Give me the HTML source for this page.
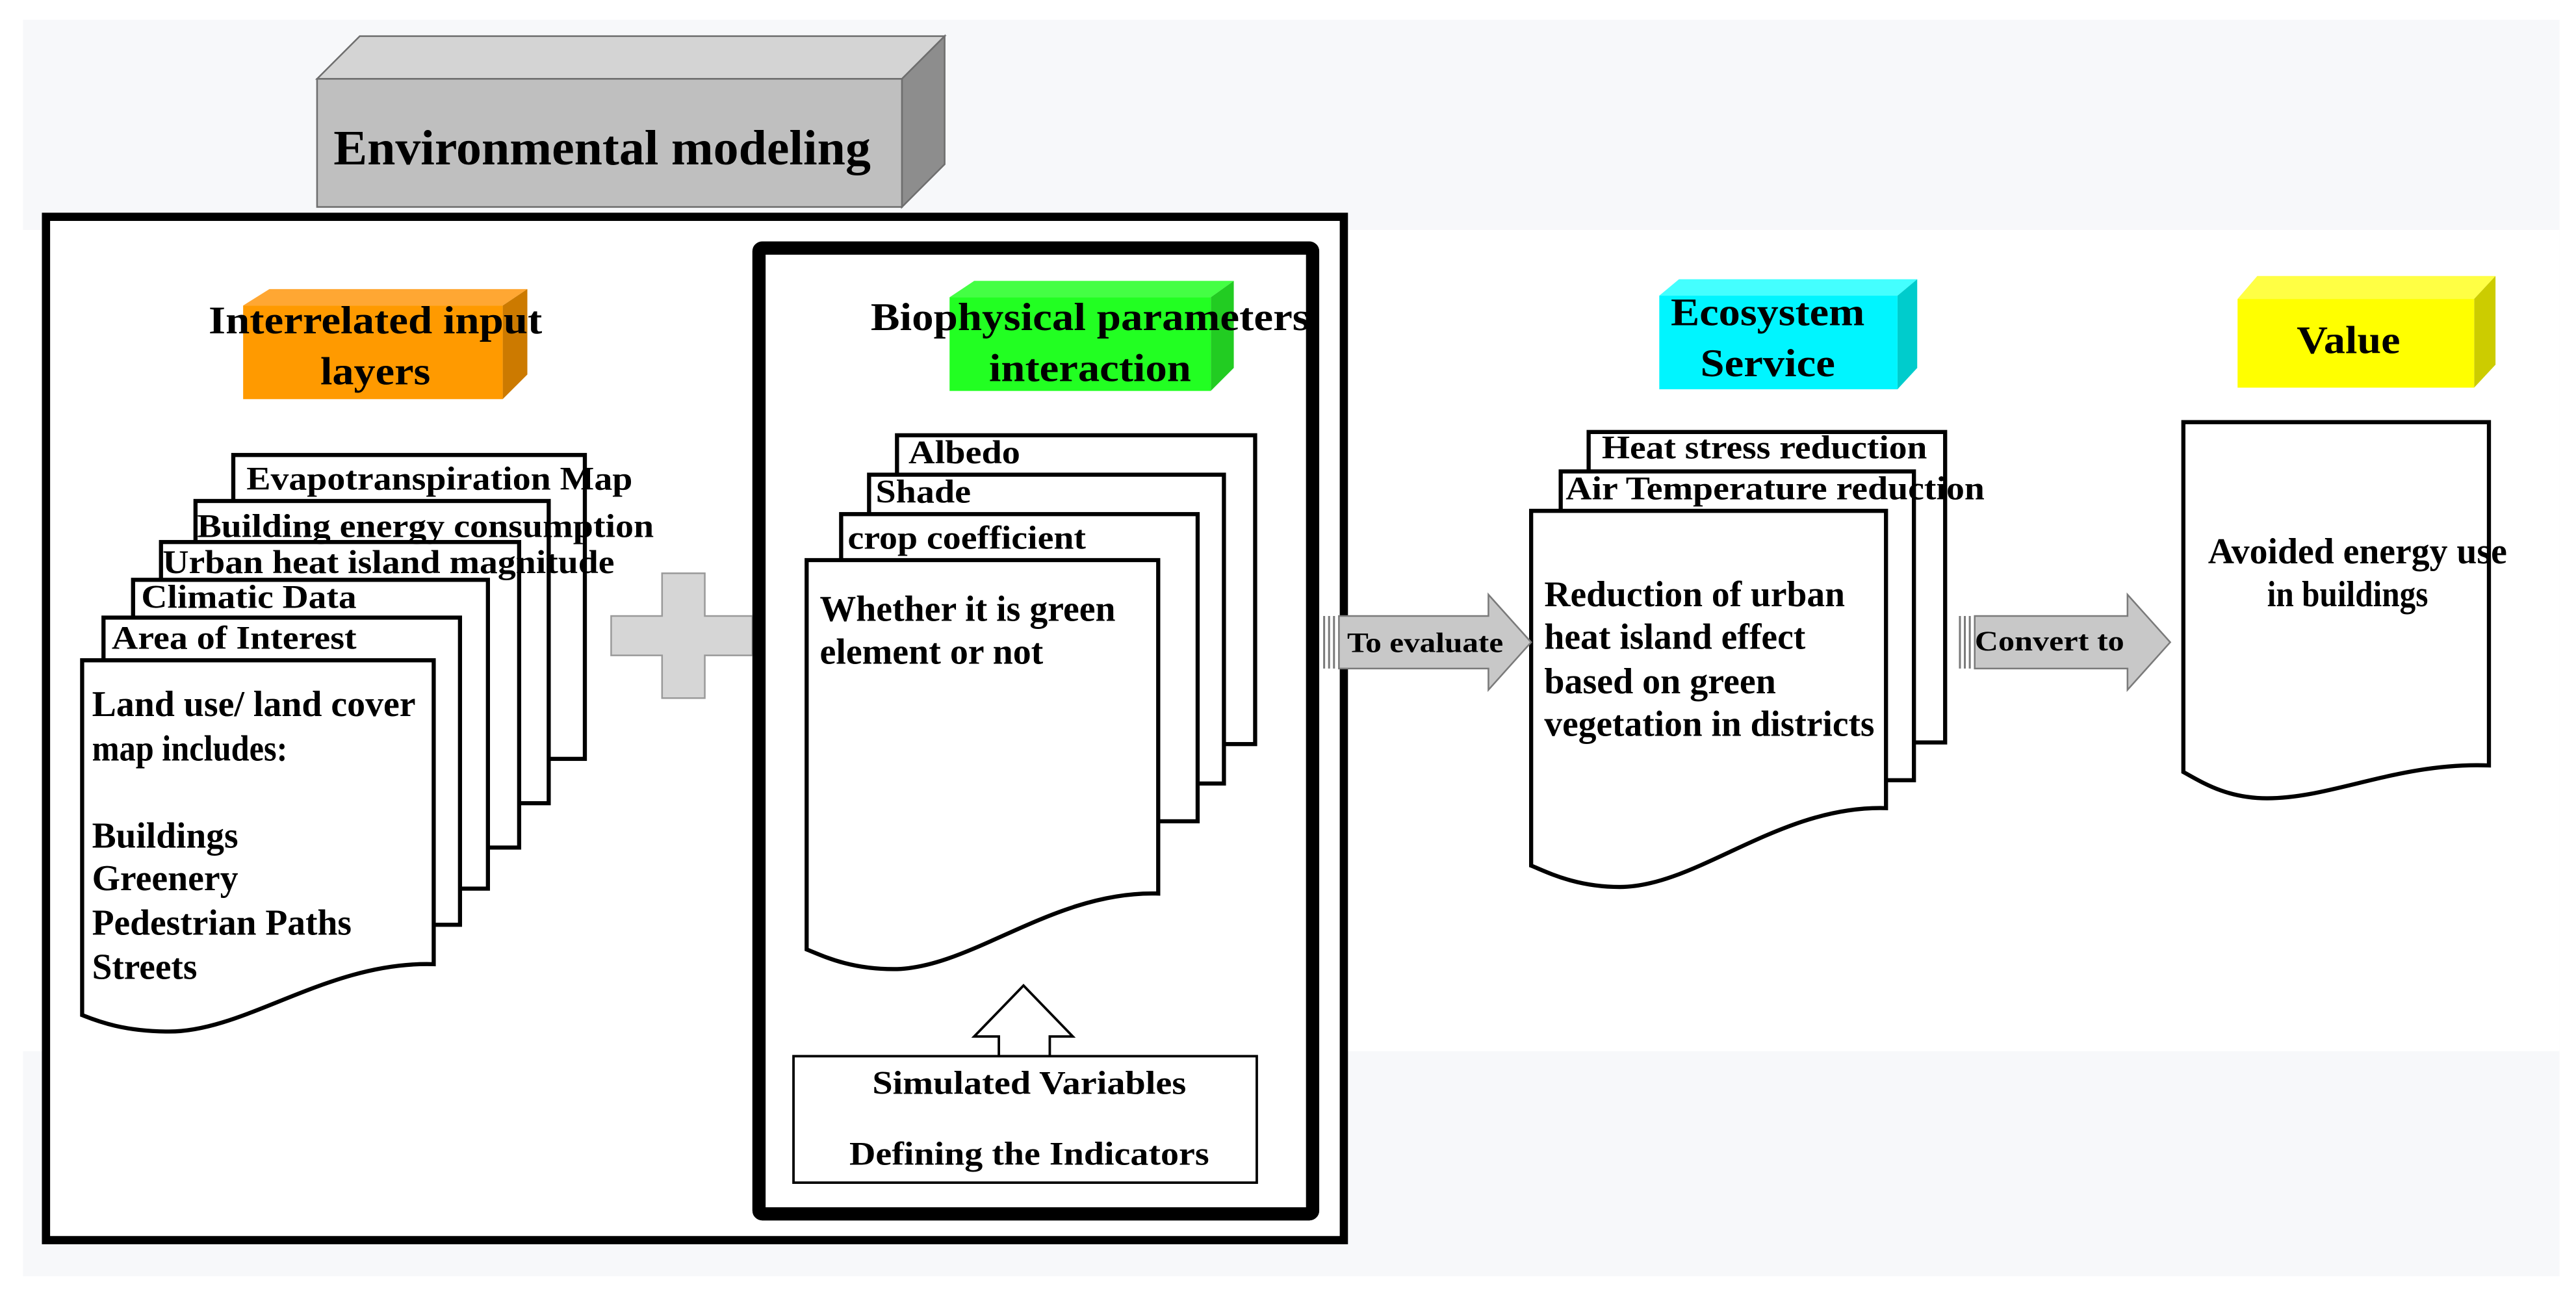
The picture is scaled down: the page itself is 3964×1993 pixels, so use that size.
<!DOCTYPE html>
<html><head><meta charset="utf-8"><style>
html,body{margin:0;padding:0;background:#fff;}
svg{display:block;}
text{font-family:"Liberation Serif",serif;font-weight:bold;fill:#000;}
</style></head><body>
<svg width="3964" height="1993" viewBox="0 0 1568 788.4" preserveAspectRatio="none" xmlns="http://www.w3.org/2000/svg">
<rect x="0" y="0" width="1568" height="789" fill="#fff"/>
<rect x="14" y="12" width="1544" height="765" fill="#f7f8fa"/>
<rect x="14" y="140" width="1544" height="500" fill="#fff"/>

<polygon points="193,48 219,22 575,22 549,48" fill="#d4d4d4" stroke="#6e6e6e" stroke-width="1"/>
<polygon points="549,48 575,22 575,100 549,126" fill="#8d8d8d" stroke="#6e6e6e" stroke-width="1"/>
<rect x="193" y="48" width="356" height="78" fill="#bfbfbf" stroke="#6e6e6e" stroke-width="1"/>
<text x="203" y="100" font-size="30" textLength="327" lengthAdjust="spacingAndGlyphs">Environmental modeling</text>

<rect x="28" y="132" width="790" height="623" fill="#fff" stroke="#000" stroke-width="5"/>
<rect x="462" y="151" width="337" height="588" fill="#fff" stroke="#000" stroke-width="8" rx="2"/>

<polygon points="148,186 164,176 321,176 306,186" fill="#ffa733"/>
<polygon points="306,186 321,176 321,228 306,243" fill="#cc7a00"/>
<rect x="148" y="186" width="158" height="57" fill="#ff9a00"/>
<text x="127" y="203" font-size="24" textLength="203" lengthAdjust="spacingAndGlyphs">Interrelated input</text>
<text x="195" y="234" font-size="24" textLength="67" lengthAdjust="spacingAndGlyphs">layers</text>

<polygon points="578,181 593,171 751,171 737,181" fill="#44ff44"/>
<polygon points="737,181 751,171 751,224 737,238" fill="#22cc22"/>
<rect x="578" y="181" width="159" height="57" fill="#22ff22"/>
<text x="530" y="201" font-size="24" textLength="267" lengthAdjust="spacingAndGlyphs">Biophysical parameters</text>
<text x="602" y="232" font-size="24" textLength="123" lengthAdjust="spacingAndGlyphs">interaction</text>

<polygon points="1010,180 1022,170 1167,170 1155,180" fill="#44ffff"/>
<polygon points="1155,180 1167,170 1167,224 1155,237" fill="#00cccc"/>
<rect x="1010" y="180" width="145" height="57" fill="#00f5ff"/>
<text x="1017" y="198" font-size="24" textLength="118" lengthAdjust="spacingAndGlyphs">Ecosystem</text>
<text x="1035" y="229" font-size="24" textLength="82" lengthAdjust="spacingAndGlyphs">Service</text>

<polygon points="1362,182 1374,168 1519,168 1506,182" fill="#ffff44"/>
<polygon points="1506,182 1519,168 1519,222 1506,236" fill="#cccc00"/>
<rect x="1362" y="182" width="144" height="54" fill="#ffff00"/>
<text x="1398" y="215" font-size="24" textLength="63" lengthAdjust="spacingAndGlyphs">Value</text>

<g fill="#fff" stroke="#000" stroke-width="2.5">
<rect x="142" y="277" width="214" height="185"/>
<rect x="119" y="305" width="215" height="184"/>
<rect x="98" y="330" width="218" height="186"/>
<rect x="81" y="353" width="216" height="188"/>
<rect x="63" y="376" width="217" height="187"/>
<path d="M50,402 H264 V587 C200,585 150,628 103,628 C76,628 60,622 50,618 Z"/>
<rect x="546" y="265" width="218" height="188"/>
<rect x="529" y="289" width="216" height="188"/>
<rect x="512" y="313" width="217" height="187"/>
<path d="M491,341 H705 V544 C641,542 591,590 544,590 C517,590 501,582 491,578 Z"/>
<rect x="967" y="263" width="217" height="189"/>
<rect x="950" y="287" width="215" height="188"/>
<path d="M932,311 H1148 V492 C1083,490 1033,540 986,540 C959,540 942,531 932,527 Z"/>
<path d="M1329,257 H1515 V466 C1460,464 1420,486 1380,486 C1355,486 1340,476 1329,470 Z"/>
</g>

<g font-size="20" lengthAdjust="spacingAndGlyphs">
<text x="150" y="298" textLength="235" lengthAdjust="spacingAndGlyphs">Evapotranspiration Map</text>
<text x="120" y="327" textLength="278" lengthAdjust="spacingAndGlyphs">Building energy consumption</text>
<text x="99" y="349" textLength="275" lengthAdjust="spacingAndGlyphs">Urban heat island magnitude</text>
<text x="86" y="370" textLength="131" lengthAdjust="spacingAndGlyphs">Climatic Data</text>
<text x="68" y="395" textLength="149" lengthAdjust="spacingAndGlyphs">Area of Interest</text>
</g>
<g font-size="22">
<text x="56" y="436" textLength="197" lengthAdjust="spacingAndGlyphs">Land use/ land cover</text>
<text x="56" y="463" textLength="119" lengthAdjust="spacingAndGlyphs">map includes:</text>
<text x="56" y="516" textLength="89" lengthAdjust="spacingAndGlyphs">Buildings</text>
<text x="56" y="542" textLength="89" lengthAdjust="spacingAndGlyphs">Greenery</text>
<text x="56" y="569" textLength="158" lengthAdjust="spacingAndGlyphs">Pedestrian Paths</text>
<text x="56" y="596" textLength="64" lengthAdjust="spacingAndGlyphs">Streets</text>
</g>

<path d="M403,349 H429 V375 H458 V399 H429 V425 H403 V399 H372 V375 H403 Z" fill="#d6d6d6" stroke="#9a9a9a" stroke-width="1"/>
<rect x="462" y="151" width="337" height="588" fill="none" stroke="#000" stroke-width="8" rx="2"/>

<g font-size="20">
<text x="553" y="282" textLength="68" lengthAdjust="spacingAndGlyphs">Albedo</text>
<text x="533" y="306" textLength="58" lengthAdjust="spacingAndGlyphs">Shade</text>
<text x="516" y="334" textLength="145" lengthAdjust="spacingAndGlyphs">crop coefficient</text>
</g>
<g font-size="22">
<text x="499" y="378" textLength="180" lengthAdjust="spacingAndGlyphs">Whether it is green</text>
<text x="499" y="404" textLength="136" lengthAdjust="spacingAndGlyphs">element or not</text>
</g>

<path d="M623,600 L653,631 H639 V643 H608 V631 H593 Z" fill="#fff" stroke="#000" stroke-width="1.5"/>
<rect x="483" y="643" width="282" height="77" fill="#fff" stroke="#000" stroke-width="1.5"/>
<text x="531" y="666" font-size="20" textLength="191" lengthAdjust="spacingAndGlyphs">Simulated Variables</text>
<text x="517" y="709" font-size="20" textLength="219" lengthAdjust="spacingAndGlyphs">Defining the Indicators</text>

<g fill="#c8c8c8" stroke="#7a7a7a" stroke-width="1">
<path d="M815,375 H906 V362 L932,391 L906,420 V407 H815 Z"/>
<path d="M1202,375 H1295 V362 L1321,391 L1295,420 V407 H1202 Z"/>
</g>
<g stroke="#7a7a7a" stroke-width="1.2">
<line x1="806" y1="375" x2="806" y2="407"/><line x1="809" y1="375" x2="809" y2="407"/><line x1="812" y1="375" x2="812" y2="407"/>
<line x1="1193" y1="375" x2="1193" y2="407"/><line x1="1196" y1="375" x2="1196" y2="407"/><line x1="1199" y1="375" x2="1199" y2="407"/>
</g>
<text x="820" y="397" font-size="17" textLength="95" lengthAdjust="spacingAndGlyphs">To evaluate</text>
<text x="1202" y="396" font-size="17" textLength="91" lengthAdjust="spacingAndGlyphs">Convert to</text>

<g font-size="20">
<text x="975" y="279" textLength="198" lengthAdjust="spacingAndGlyphs">Heat stress reduction</text>
<text x="953" y="304" textLength="255" lengthAdjust="spacingAndGlyphs">Air Temperature reduction</text>
</g>
<g font-size="22">
<text x="940" y="369" textLength="183" lengthAdjust="spacingAndGlyphs">Reduction of urban</text>
<text x="940" y="395" textLength="159" lengthAdjust="spacingAndGlyphs">heat island effect</text>
<text x="940" y="422" textLength="141" lengthAdjust="spacingAndGlyphs">based on green</text>
<text x="940" y="448" textLength="201" lengthAdjust="spacingAndGlyphs">vegetation in districts</text>
<text x="1344" y="343" textLength="182" lengthAdjust="spacingAndGlyphs">Avoided energy use</text>
<text x="1380" y="369" textLength="98" lengthAdjust="spacingAndGlyphs">in buildings</text>
</g>
</svg>
</body></html>
